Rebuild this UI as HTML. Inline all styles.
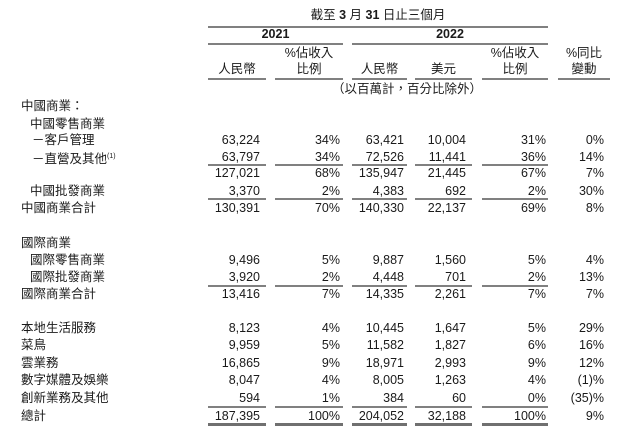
<!DOCTYPE html>
<html><head><meta charset="utf-8"><style>
body{margin:0;width:640px;height:437px;background:#fff;position:relative;overflow:hidden;font-family:"Liberation Sans","Noto Sans CJK TC",sans-serif;font-size:12.5px;color:#1a1a1a}
.t{position:absolute;height:16px;line-height:16px;white-space:nowrap}
.r{text-align:right}
.l{position:absolute;height:1.5px;background:#808080}
.c{text-align:center;position:absolute;line-height:16px;white-space:nowrap}
sup{font-size:7px;vertical-align:5px}
</style></head><body>
<div class="c" style="left:208px;width:340px;top:7px">截至 <b>3</b> 月 <b>31</b> 日止三個月</div>
<div class="l" style="left:208px;width:340px;top:26px"></div>
<div class="c" style="left:208px;width:135px;top:26px;font-weight:bold">2021</div>
<div class="c" style="left:352px;width:196px;top:26px;font-weight:bold">2022</div>
<div class="l" style="left:208px;width:135px;top:43px"></div>
<div class="l" style="left:352px;width:196px;top:43px"></div>
<div class="c" style="left:208px;width:58px;top:61px">人民幣</div>
<div class="c" style="left:275px;width:68px;top:45px">%佔收入<br>比例</div>
<div class="c" style="left:352px;width:55px;top:61px">人民幣</div>
<div class="c" style="left:415px;width:57px;top:61px">美元</div>
<div class="c" style="left:482px;width:66px;top:45px">%佔收入<br>比例</div>
<div class="c" style="left:558px;width:52px;top:45px">%同比<br>變動</div>
<div class="l" style="left:208px;width:58px;top:78px"></div>
<div class="l" style="left:275px;width:68px;top:78px"></div>
<div class="l" style="left:352px;width:55px;top:78px"></div>
<div class="l" style="left:415px;width:57px;top:78px"></div>
<div class="l" style="left:482px;width:66px;top:78px"></div>
<div class="l" style="left:558px;width:52px;top:78px"></div>
<div class="c" style="left:327px;width:160px;top:81px">（以百萬計，百分比除外）</div>

<div id="rows"></div>
<script>
var R=[
[98,21,"中國商業："],
[116,30,"中國零售商業"],
[132,32,"－客戶管理","63,224","34%","63,421","10,004","31%","0%"],
[149,32,"－直營及其他<sup>(1)</sup>","63,797","34%","72,526","11,441","36%","14%",164],
[165,0,"","127,021","68%","135,947","21,445","67%","7%"],
[183,30,"中國批發商業","3,370","2%","4,383","692","2%","30%",198],
[200,21,"中國商業合計","130,391","70%","140,330","22,137","69%","8%"],
[235,21,"國際商業"],
[252,30,"國際零售商業","9,496","5%","9,887","1,560","5%","4%"],
[269,30,"國際批發商業","3,920","2%","4,448","701","2%","13%",285],
[286,21,"國際商業合計","13,416","7%","14,335","2,261","7%","7%"],
[320,21,"本地生活服務","8,123","4%","10,445","1,647","5%","29%"],
[337,21,"菜鳥","9,959","5%","11,582","1,827","6%","16%"],
[355,21,"雲業務","16,865","9%","18,971","2,993","9%","12%"],
[372,21,"數字媒體及娛樂","8,047","4%","8,005","1,263","4%","(1)%"],
[390,21,"創新業務及其他","594","1%","384","60","0%","(35)%",406],
[408,21,"總計","187,395","100%","204,052","32,188","100%","9%",-423]];
var rt=[260,340,404,466,546,604];
var seg=[[208,58],[275,68],[352,55],[415,57],[482,66]];
var h="";
R.forEach(function(r){
 if(r[2])h+='<div class="t" style="left:'+r[1]+'px;top:'+r[0]+'px">'+r[2]+'</div>';
 for(var i=0;i<6;i++)if(typeof r[3+i]=="string")h+='<div class="t r" style="right:'+(640-rt[i])+'px;top:'+r[0]+'px">'+r[3+i]+'</div>';
 var u=r[9];
 if(u>0)seg.forEach(function(s){h+='<div class="l" style="left:'+s[0]+'px;width:'+s[1]+'px;top:'+u+'px"></div>'});
 if(u<0)seg.forEach(function(s){h+='<div class="l" style="left:'+s[0]+'px;width:'+s[1]+'px;top:'+(-u)+'px;height:3px;background:#707070"></div>'});
});
document.getElementById("rows").innerHTML=h;
</script>
</body></html>
